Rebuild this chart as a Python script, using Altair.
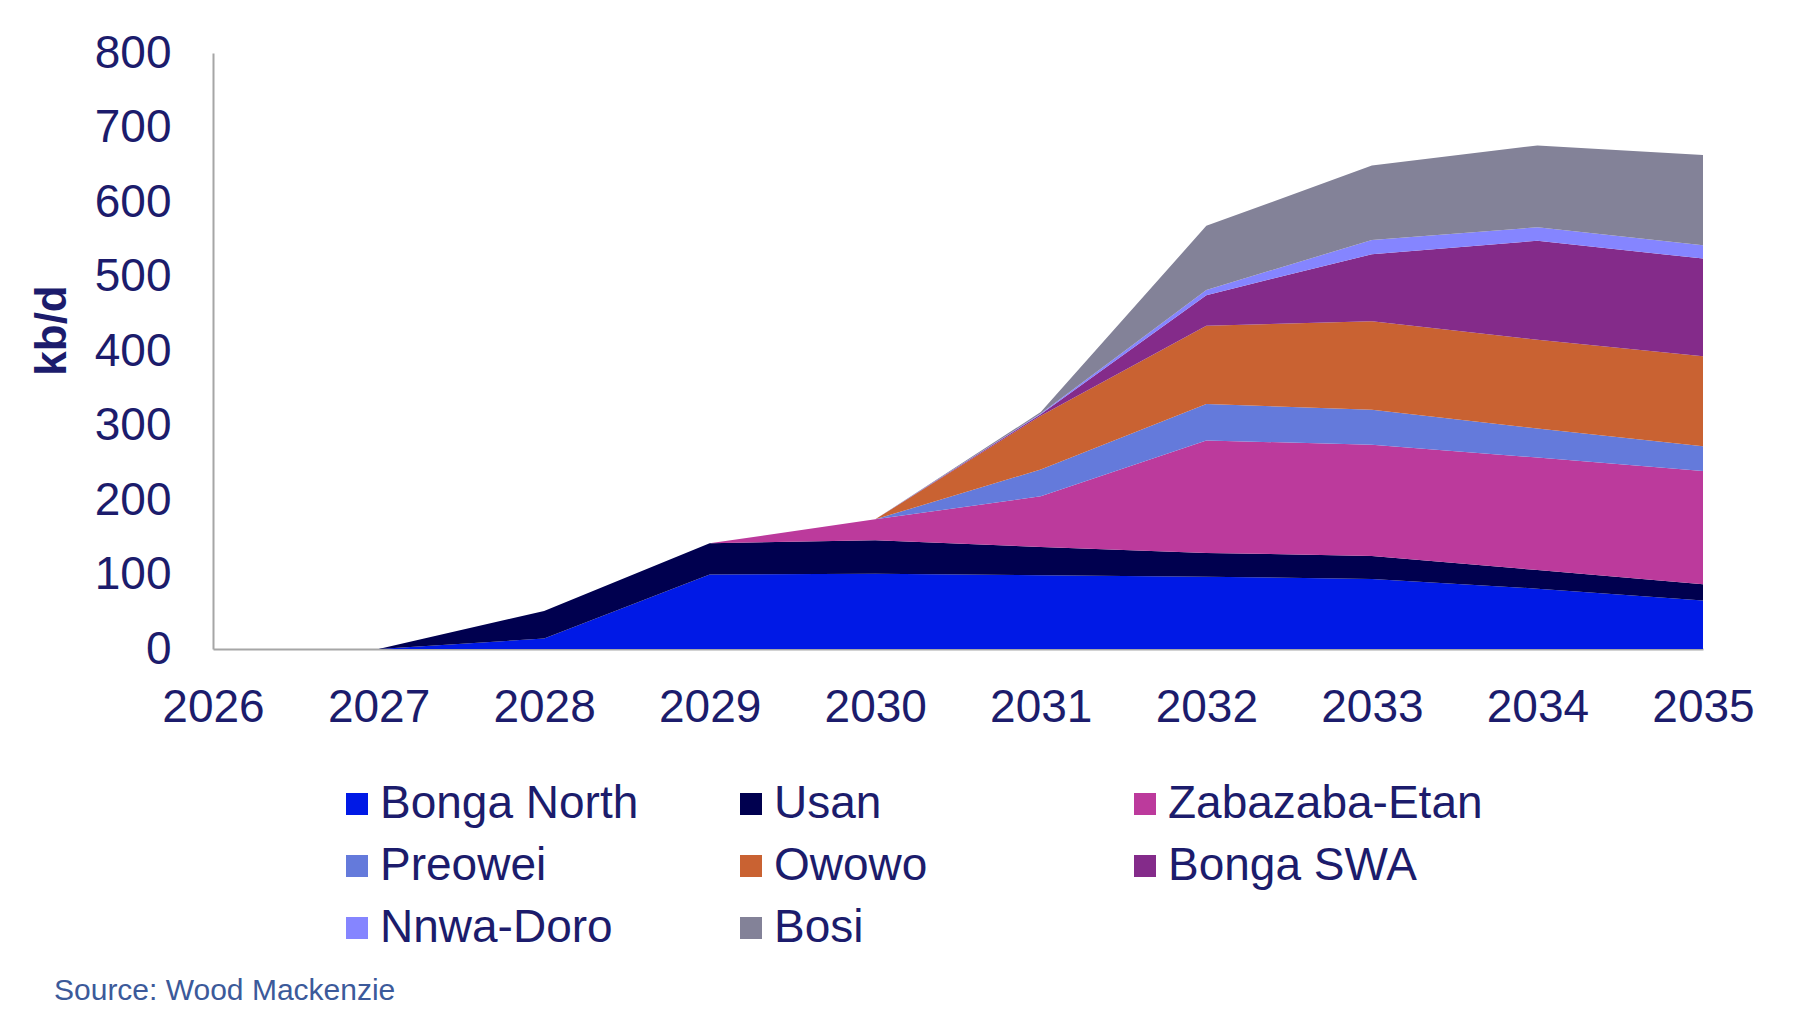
import altair as alt
import pandas as pd

# ---- data (kb/d) ----
years = [2026, 2027, 2028, 2029, 2030, 2031, 2032, 2033, 2034, 2035]
fields = ["Bonga North", "Usan", "Zabazaba-Etan", "Preowei",
          "Owowo", "Bonga SWA", "Nnwa-Doro", "Bosi"]
colors = ["#0019E6", "#00004F", "#BC3A9C", "#647ADB",
          "#C96232", "#842B8A", "#8585FF", "#838298"]

bonga_north = [0, 0, 14, 100, 101, 99, 97, 94, 81, 65]
usan        = [0, 0, 37, 42, 45, 38, 32, 31, 25, 22]
zabazaba    = [0, 0, 0, 0, 28, 68, 151, 149, 151, 152]
preowei     = [0, 0, 0, 0, 0, 36, 49, 47, 39, 33]
owowo       = [0, 0, 0, 0, 0, 72, 105, 119, 119, 121]
bonga_swa   = [0, 0, 0, 0, 0, 2, 41, 90, 133, 131]
nnwa_doro   = [0, 0, 0, 0, 0, 1, 7, 19, 18, 18]
bosi        = [0, 0, 0, 0, 0, 2, 86, 100, 110, 121]

series = [bonga_north, usan, zabazaba, preowei, owowo, bonga_swa, nnwa_doro, bosi]

y_ticks = [0, 100, 200, 300, 400, 500, 600, 700, 800]
source_text = ["Source: Wood Mackenzie"]

rows = []
for i, (f, vals) in enumerate(zip(fields, series)):
    for yr, v in zip(years, vals):
        rows.append({"year": yr, "field": f, "value": v, "order": i})
df = pd.DataFrame(rows)

FONT = "Liberation Sans"
TXT = "#1C1C6C"
AXC = "#A6A6A6"

areas = alt.Chart(df).mark_area(opacity=1, interpolate="linear").encode(
    x=alt.X("year:Q",
            scale=alt.Scale(domain=[2026, 2035], nice=False, zero=False),
            axis=alt.Axis(values=years, format="d", title=None, grid=False,
                          ticks=False, tickSize=0, labelFlush=False,
                          labelFont=FONT, labelFontSize=46, labelColor=TXT,
                          labelPadding=36, domainColor=AXC, domainWidth=2,
                          labelOverlap=False)),
    y=alt.Y("value:Q", stack="zero",
            scale=alt.Scale(domain=[0, 800], nice=False),
            axis=alt.Axis(values=y_ticks, title="kb/d", grid=False,
                          ticks=False, tickSize=0,
                          labelFont=FONT, labelFontSize=46, labelColor=TXT,
                          labelPadding=42, domainColor=AXC, domainWidth=2,
                          titleFont=FONT, titleFontSize=44, titleFontWeight="bold",
                          titleColor=TXT, titleAngle=270, titleX=-161, titleY=277,
                          titleAlign="center", titleBaseline="middle",
                          labelFlush=False)),
    color=alt.Color("field:N",
                    scale=alt.Scale(domain=fields, range=colors),
                    sort=fields,
                    legend=alt.Legend(orient="none", legendX=121, legendY=728,
                                      direction="horizontal",
                                      columns=3, gridAlign="all",
                                      columnPadding=33, rowPadding=16,
                                      symbolType="square", symbolSize=484,
                                      symbolStrokeWidth=0, symbolOpacity=1,
                                      labelFont=FONT, labelFontSize=46,
                                      labelColor=TXT, labelOffset=0,
                                      labelLimit=0, title=None, padding=0)),
    order=alt.Order("order:Q", sort="ascending"),
)

source = alt.Chart(pd.DataFrame({"t": source_text})).mark_text(
    align="left", baseline="alphabetic", font=FONT, fontSize=30,
    color="#3C5A9A"
).encode(text="t:N", x=alt.value(-159), y=alt.value(947))

chart = alt.layer(areas, source).properties(
    width=1490, height=596,
    background="white",
    autosize=alt.AutoSizeParams(type="none"),
    padding={"left": 205, "top": 45, "right": 80, "bottom": 360},
).configure_view(stroke=None, strokeWidth=0)

chart.save("out.html", embed_options={"renderer": "svg", "actions": False})
